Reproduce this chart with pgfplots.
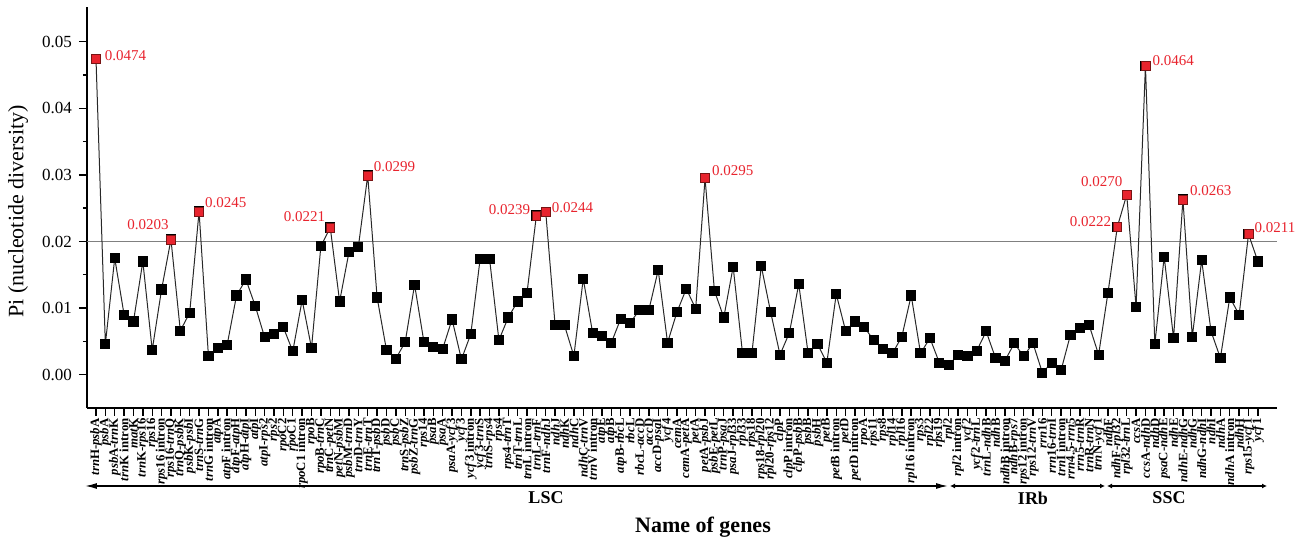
\documentclass[border=0pt]{standalone}
\usepackage{fontspec}
\setmainfont{Liberation Serif}
\usepackage{pgfplots}
\pgfplotsset{compat=1.18}
\usetikzlibrary{arrows.meta}
\newcommand{\g}[1]{\textit{#1}}
\definecolor{hired}{RGB}{232,36,46}
\definecolor{hiedge}{RGB}{120,20,20}
\definecolor{linec}{RGB}{40,40,40}
\begin{document}
\begin{tikzpicture}
\useasboundingbox (-43.5pt,-66pt) rectangle (607.5pt,204pt);
\begin{axis}[
  scale only axis, width=595pt, height=200.5pt,
  at={(0,0)}, anchor=south west,
  xmin=0.04, xmax=127.04, ymin=-0.005, ymax=0.0552,
  axis x line*=bottom, axis y line*=left,
  axis line style={-, line width=0.9pt, black},
  tick align=outside,
  major tick length=4pt, minor tick length=2pt,
  every tick/.style={black, line width=0.7pt},
  xtick={1,...,125},
  xticklabels={
{\g{trn}H-\g{psb}A},{\g{psb}A},{\g{psb}A-\g{trn}K},{\g{trn}K intron},{\g{mat}K},{\g{trn}K-\g{rps}16},{\g{rps}16},{\g{rps}16 intron},{\g{rps}16-\g{trn}Q},{\g{trn}Q-\g{psb}K},
{\g{psb}K-\g{psb}I},{\g{trn}S-\g{trn}G},{\g{trn}G intron},{\g{atp}A},{\g{atp}F intron},{\g{atp}F-\g{atp}H},{\g{atp}H-\g{atp}I},{\g{atp}I},{\g{atp}I-\g{rps}2},{\g{rps}2},
{\g{rpo}C2},{\g{rpo}C1},{\g{rpo}C1 intron},{\g{rpo}B},{\g{rpo}B-\g{trn}C},{\g{trn}C-\g{pet}N},{\g{pet}N-\g{psb}M},{\g{psb}M-\g{trn}D},{\g{trn}D-\g{trn}Y},{\g{trn}E-\g{trn}T},
{\g{trn}T-\g{psb}D},{\g{psb}D},{\g{psb}C},{\g{trn}S-\g{psb}Z},{\g{psb}Z-\g{trn}G},{\g{rps}14},{\g{psa}B},{\g{psa}A},{\g{psa}A-\g{ycf}3},{\g{ycf}3},
{\g{ycf}3 intron},{\g{ycf}3-\g{trn}S},{\g{trn}S-\g{rps}4},{\g{rps}4},{\g{rps}4-\g{trn}T},{\g{trn}T-\g{trn}L},{\g{trn}L intron},{\g{trn}L-\g{trn}F},{\g{trn}F-\g{ndh}J},{\g{ndh}J},
{\g{ndh}K},{\g{ndh}C},{\g{ndh}C-\g{trn}V},{\g{trn}V intron},{\g{atp}E},{\g{atp}B},{\g{atp}B-\g{rbc}L},{\g{rbc}L},{\g{rbc}L-\g{acc}D},{\g{acc}D},
{\g{acc}D-\g{psa}I},{\g{ycf}4},{\g{cem}A},{\g{cem}A-\g{pet}A},{\g{pet}A},{\g{pet}A-\g{psb}J},{\g{psb}E-\g{pet}L},{\g{trn}P-\g{psa}J},{\g{psa}J-\g{rpl}33},{\g{rpl}33},
{\g{rps}18},{\g{rps}18-\g{rpl}20},{\g{rpl}20-\g{rps}12},{\g{clp}P},{\g{clp}P intron},{\g{clp}P-\g{psb}B},{\g{psb}B},{\g{psb}H},{\g{pet}B},{\g{pet}B intron},
{\g{pet}D},{\g{pet}D intron},{\g{rpo}A},{\g{rps}11},{\g{rps}8},{\g{rpl}14},{\g{rpl}16},{\g{rpl}16 intron},{\g{rps}3},{\g{rpl}22},
{\g{rps}19},{\g{rpl}2},{\g{rpl}2 intron},{\g{ycf}2},{\g{ycf}2-\g{trn}L},{\g{trn}L-\g{ndh}B},{\g{ndh}B},{\g{ndh}B intron},{\g{ndh}B-\g{rps}7},{\g{rps}12 intron},
{\g{rps}12-\g{trn}V},{\g{rrn}16},{\g{rrn}16-\g{trn}I},{\g{trn}I intron},{\g{rrn}4.5-\g{rrn}5},{\g{rrn}5-\g{trn}R},{\g{trn}R-\g{trn}N},{\g{trn}N-\g{ycf}1},{\g{ndh}F},{\g{ndh}F-\g{rpl}32},
{\g{rpl}32-\g{trn}L},{\g{ccs}A},{\g{ccs}A-\g{ndh}D},{\g{ndh}D},{\g{psa}C-\g{ndh}E},{\g{ndh}E},{\g{ndh}E-\g{ndh}G},{\g{ndh}G},{\g{ndh}G-\g{ndh}I},{\g{ndh}I},
{\g{ndh}A},{\g{ndh}A intron},{\g{ndh}H},{\g{rps}15-\g{ycf}1},{\g{ycf}1}},
  xticklabel style={rotate=90, anchor=east, font=\fontsize{6.4}{6.5}\selectfont\bfseries, inner sep=1pt},
  ytick={0,0.01,0.02,0.03,0.04,0.05},
  minor y tick num=1,
  yticklabel style={/pgf/number format/fixed, /pgf/number format/fixed zerofill, /pgf/number format/precision=2, /pgf/number format/assume math mode=true, font=\fontsize{8.5}{9}\selectfont},
  scaled y ticks=false,
  ylabel={Pi (nucleotide diversity)},
  ylabel style={at={(axis description cs:0,0.49)}, anchor=center, yshift=34.5pt, font=\fontsize{11}{12}\selectfont},
  clip=false,
]
\draw[gray, line width=0.5pt] (axis cs:0.04,0.02) -- (axis cs:127.04,0.02);
\addplot[linec, line width=0.5pt, mark=square*, mark size=2.3pt, mark options={fill=black, draw=black}] table {
x y
1 0.0474
2 0.0046
3 0.0175
4 0.0090
5 0.0080
6 0.0170
7 0.0037
8 0.0128
9 0.0203
10 0.0066
11 0.0093
12 0.0245
13 0.0028
14 0.0040
15 0.0045
16 0.0119
17 0.0143
18 0.0103
19 0.0056
20 0.0061
21 0.0071
22 0.0035
23 0.0112
24 0.0040
25 0.0193
26 0.0221
27 0.0110
28 0.0184
29 0.0192
30 0.0299
31 0.0116
32 0.0037
33 0.0024
34 0.0049
35 0.0135
36 0.0049
37 0.0041
38 0.0039
39 0.0083
40 0.0023
41 0.0061
42 0.0174
43 0.0174
44 0.0052
45 0.0086
46 0.0110
47 0.0123
48 0.0239
49 0.0244
50 0.0074
51 0.0074
52 0.0028
53 0.0144
54 0.0063
55 0.0058
56 0.0048
57 0.0084
58 0.0078
59 0.0097
60 0.0097
61 0.0157
62 0.0048
63 0.0094
64 0.0129
65 0.0099
66 0.0295
67 0.0126
68 0.0086
69 0.0162
70 0.0032
71 0.0032
72 0.0163
73 0.0094
74 0.0030
75 0.0063
76 0.0136
77 0.0032
78 0.0046
79 0.0018
80 0.0121
81 0.0066
82 0.0080
83 0.0071
84 0.0052
85 0.0038
86 0.0032
87 0.0057
88 0.0119
89 0.0032
90 0.0055
91 0.0018
92 0.0014
93 0.0030
94 0.0028
95 0.0036
96 0.0065
97 0.0025
98 0.0021
99 0.0047
100 0.0028
101 0.0047
102 0.0003
103 0.0018
104 0.0007
105 0.0060
106 0.0070
107 0.0074
108 0.0030
109 0.0123
110 0.0222
111 0.0270
112 0.0102
113 0.0464
114 0.0046
115 0.0177
116 0.0055
117 0.0263
118 0.0057
119 0.0172
120 0.0065
121 0.0025
122 0.0116
123 0.0090
124 0.0211
125 0.0170
};
\addplot[only marks, mark=square*, mark size=2.2pt, mark options={fill=hired, draw=hiedge, line width=0.3pt}] table {
x y
1 0.0474
9 0.0203
12 0.0245
26 0.0221
30 0.0299
48 0.0239
49 0.0244
66 0.0295
110 0.0222
111 0.0270
113 0.0464
117 0.0263
124 0.0211
};
\begin{scope}[every node/.style={text=hired, font=\fontsize{7.5}{8}\selectfont, inner sep=1pt}]
\node[anchor=south west] at (axis cs:1.7,0.0468) {0.0474};
\node[anchor=south east] at (axis cs:9,0.0214) {0.0203};
\node[anchor=south west] at (axis cs:12.4,0.0247) {0.0245};
\node[anchor=south east] at (axis cs:25.7,0.0226) {0.0221};
\node[anchor=south west] at (axis cs:30.4,0.0301) {0.0299};
\node[anchor=south east] at (axis cs:47.6,0.0237) {0.0239};
\node[anchor=south west] at (axis cs:49.4,0.0239) {0.0244};
\node[anchor=south west] at (axis cs:66.5,0.0295) {0.0295};
\node[anchor=south east] at (axis cs:109.6,0.0218) {0.0222};
\node[anchor=south east] at (axis cs:110.8,0.0279) {0.0270};
\node[anchor=south west] at (axis cs:113.5,0.0460) {0.0464};
\node[anchor=south west] at (axis cs:117.5,0.0265) {0.0263};
\node[anchor=south west] at (axis cs:124.4,0.0210) {0.0211};
\end{scope}
\end{axis}
\draw[line width=0.7pt, {Latex[length=6pt,width=3pt]}-{Latex[length=6pt,width=3pt]}] (-1pt,-39pt) -- (430.5pt,-39pt);
\draw[line width=0.7pt, {Latex[length=2.5pt,width=2.5pt]}-{Latex[length=2.5pt,width=2.5pt]}] (431.5pt,-39pt) -- (509pt,-39pt);
\draw[line width=0.7pt, {Latex[length=2.5pt,width=2.5pt]}-{Latex[length=2.5pt,width=2.5pt]}] (510pt,-39pt) -- (590pt,-39pt);
\node[font=\fontsize{9}{10}\selectfont\bfseries] at (229.5pt,-45pt) {LSC};
\node[font=\fontsize{9}{10}\selectfont\bfseries] at (473pt,-45pt) {IRb};
\node[font=\fontsize{9}{10}\selectfont\bfseries] at (541pt,-45pt) {SSC};
\node[font=\fontsize{11}{12}\selectfont\bfseries] at (308pt,-59.5pt) {Name of genes};
\end{tikzpicture}
\end{document}
